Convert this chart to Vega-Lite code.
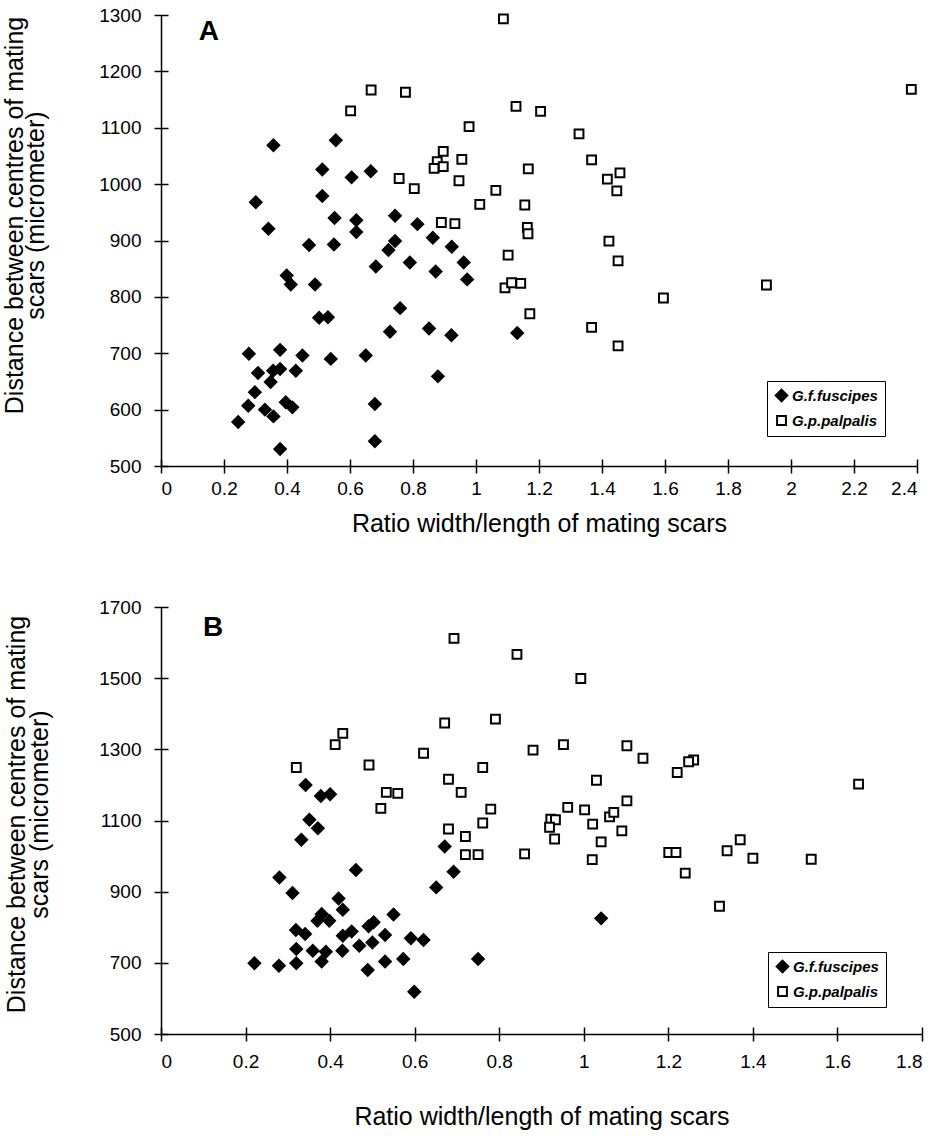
{
  "$schema": "https://vega.github.io/schema/vega-lite/v6.json",
  "background": "white",
  "padding": {"left": 2, "top": 6, "right": 12, "bottom": 2},
  "spacing": 62,
  "config": {
    "font": "Liberation Sans",
    "view": {"stroke": null},
    "axis": {
      "grid": false,
      "domainColor": "black",
      "domainWidth": 1.5,
      "tickColor": "black",
      "tickWidth": 1.5,
      "tickSize": 7,
      "labelColor": "black",
      "titleColor": "black",
      "labelFont": "Liberation Sans",
      "titleFont": "Liberation Sans",
      "labelFontSize": 19,
      "titleFontSize": 25,
      "titleFontWeight": "normal"
    },
    "legend": {
      "orient": "none",
      "strokeColor": "black",
      "strokeWidth": 1,
      "padding": 7,
      "fillColor": "white",
      "labelFont": "Liberation Sans",
      "labelFontSize": 15,
      "labelFontStyle": "italic",
      "labelFontWeight": "bold",
      "labelColor": "black",
      "labelOffset": 3,
      "symbolStrokeColor": "black",
      "symbolStrokeWidth": 2,
      "rowPadding": 6,
      "title": null
    }
  },
  "datasets": {
    "panelA": [
      {"species": "G.f.fuscipes", "ratio": 0.245, "distance": 578},
      {"species": "G.f.fuscipes", "ratio": 0.279, "distance": 699},
      {"species": "G.f.fuscipes", "ratio": 0.378, "distance": 706},
      {"species": "G.f.fuscipes", "ratio": 0.449, "distance": 696},
      {"species": "G.f.fuscipes", "ratio": 0.502, "distance": 763},
      {"species": "G.f.fuscipes", "ratio": 0.530, "distance": 764},
      {"species": "G.f.fuscipes", "ratio": 0.539, "distance": 690},
      {"species": "G.f.fuscipes", "ratio": 0.308, "distance": 665},
      {"species": "G.f.fuscipes", "ratio": 0.356, "distance": 669},
      {"species": "G.f.fuscipes", "ratio": 0.378, "distance": 672},
      {"species": "G.f.fuscipes", "ratio": 0.428, "distance": 669},
      {"species": "G.f.fuscipes", "ratio": 0.348, "distance": 649},
      {"species": "G.f.fuscipes", "ratio": 0.298, "distance": 631},
      {"species": "G.f.fuscipes", "ratio": 0.277, "distance": 607},
      {"species": "G.f.fuscipes", "ratio": 0.330, "distance": 600},
      {"species": "G.f.fuscipes", "ratio": 0.357, "distance": 588},
      {"species": "G.f.fuscipes", "ratio": 0.396, "distance": 613},
      {"species": "G.f.fuscipes", "ratio": 0.417, "distance": 604},
      {"species": "G.f.fuscipes", "ratio": 0.378, "distance": 530},
      {"species": "G.f.fuscipes", "ratio": 0.357, "distance": 1069},
      {"species": "G.f.fuscipes", "ratio": 0.555, "distance": 1078},
      {"species": "G.f.fuscipes", "ratio": 0.512, "distance": 1026},
      {"species": "G.f.fuscipes", "ratio": 0.605, "distance": 1012},
      {"species": "G.f.fuscipes", "ratio": 0.301, "distance": 968},
      {"species": "G.f.fuscipes", "ratio": 0.512, "distance": 979},
      {"species": "G.f.fuscipes", "ratio": 0.551, "distance": 940},
      {"species": "G.f.fuscipes", "ratio": 0.620, "distance": 936},
      {"species": "G.f.fuscipes", "ratio": 0.341, "distance": 921},
      {"species": "G.f.fuscipes", "ratio": 0.470, "distance": 892},
      {"species": "G.f.fuscipes", "ratio": 0.549, "distance": 893},
      {"species": "G.f.fuscipes", "ratio": 0.399, "distance": 838},
      {"species": "G.f.fuscipes", "ratio": 0.412, "distance": 822},
      {"species": "G.f.fuscipes", "ratio": 0.489, "distance": 822},
      {"species": "G.f.fuscipes", "ratio": 0.620, "distance": 915},
      {"species": "G.f.fuscipes", "ratio": 0.743, "distance": 899},
      {"species": "G.f.fuscipes", "ratio": 0.722, "distance": 883},
      {"species": "G.f.fuscipes", "ratio": 0.863, "distance": 905},
      {"species": "G.f.fuscipes", "ratio": 0.923, "distance": 889},
      {"species": "G.f.fuscipes", "ratio": 0.682, "distance": 854},
      {"species": "G.f.fuscipes", "ratio": 0.790, "distance": 861},
      {"species": "G.f.fuscipes", "ratio": 0.872, "distance": 845},
      {"species": "G.f.fuscipes", "ratio": 0.961, "distance": 861},
      {"species": "G.f.fuscipes", "ratio": 0.972, "distance": 831},
      {"species": "G.f.fuscipes", "ratio": 0.759, "distance": 780},
      {"species": "G.f.fuscipes", "ratio": 0.727, "distance": 738},
      {"species": "G.f.fuscipes", "ratio": 0.851, "distance": 744},
      {"species": "G.f.fuscipes", "ratio": 0.922, "distance": 732},
      {"species": "G.f.fuscipes", "ratio": 1.131, "distance": 736},
      {"species": "G.f.fuscipes", "ratio": 0.650, "distance": 696},
      {"species": "G.f.fuscipes", "ratio": 0.879, "distance": 659},
      {"species": "G.f.fuscipes", "ratio": 0.679, "distance": 610},
      {"species": "G.f.fuscipes", "ratio": 0.679, "distance": 544},
      {"species": "G.f.fuscipes", "ratio": 0.666, "distance": 1023},
      {"species": "G.f.fuscipes", "ratio": 0.743, "distance": 944},
      {"species": "G.f.fuscipes", "ratio": 0.814, "distance": 929},
      {"species": "G.p.palpalis", "ratio": 1.087, "distance": 1293},
      {"species": "G.p.palpalis", "ratio": 0.667, "distance": 1167},
      {"species": "G.p.palpalis", "ratio": 0.776, "distance": 1163},
      {"species": "G.p.palpalis", "ratio": 0.602, "distance": 1130},
      {"species": "G.p.palpalis", "ratio": 1.127, "distance": 1138},
      {"species": "G.p.palpalis", "ratio": 1.205, "distance": 1129},
      {"species": "G.p.palpalis", "ratio": 0.978, "distance": 1102},
      {"species": "G.p.palpalis", "ratio": 0.896, "distance": 1058},
      {"species": "G.p.palpalis", "ratio": 0.877, "distance": 1040},
      {"species": "G.p.palpalis", "ratio": 0.867, "distance": 1028},
      {"species": "G.p.palpalis", "ratio": 0.896, "distance": 1031},
      {"species": "G.p.palpalis", "ratio": 0.955, "distance": 1044},
      {"species": "G.p.palpalis", "ratio": 1.166, "distance": 1027},
      {"species": "G.p.palpalis", "ratio": 0.756, "distance": 1010},
      {"species": "G.p.palpalis", "ratio": 0.804, "distance": 992},
      {"species": "G.p.palpalis", "ratio": 0.946, "distance": 1006},
      {"species": "G.p.palpalis", "ratio": 1.063, "distance": 989},
      {"species": "G.p.palpalis", "ratio": 1.012, "distance": 964},
      {"species": "G.p.palpalis", "ratio": 1.155, "distance": 963},
      {"species": "G.p.palpalis", "ratio": 0.890, "distance": 932},
      {"species": "G.p.palpalis", "ratio": 0.933, "distance": 930},
      {"species": "G.p.palpalis", "ratio": 1.163, "distance": 923},
      {"species": "G.p.palpalis", "ratio": 1.165, "distance": 912},
      {"species": "G.p.palpalis", "ratio": 1.102, "distance": 874},
      {"species": "G.p.palpalis", "ratio": 1.092, "distance": 816},
      {"species": "G.p.palpalis", "ratio": 1.113, "distance": 825},
      {"species": "G.p.palpalis", "ratio": 1.142, "distance": 824},
      {"species": "G.p.palpalis", "ratio": 1.171, "distance": 770},
      {"species": "G.p.palpalis", "ratio": 2.382, "distance": 1168},
      {"species": "G.p.palpalis", "ratio": 1.327, "distance": 1089},
      {"species": "G.p.palpalis", "ratio": 1.367, "distance": 1043},
      {"species": "G.p.palpalis", "ratio": 1.417, "distance": 1009},
      {"species": "G.p.palpalis", "ratio": 1.457, "distance": 1020},
      {"species": "G.p.palpalis", "ratio": 1.447, "distance": 988},
      {"species": "G.p.palpalis", "ratio": 1.422, "distance": 899},
      {"species": "G.p.palpalis", "ratio": 1.451, "distance": 864},
      {"species": "G.p.palpalis", "ratio": 1.922, "distance": 821},
      {"species": "G.p.palpalis", "ratio": 1.595, "distance": 798},
      {"species": "G.p.palpalis", "ratio": 1.367, "distance": 746},
      {"species": "G.p.palpalis", "ratio": 1.451, "distance": 713}
    ],
    "panelB": [
      {"species": "G.f.fuscipes", "ratio": 0.378, "distance": 1169},
      {"species": "G.f.fuscipes", "ratio": 0.400, "distance": 1174},
      {"species": "G.f.fuscipes", "ratio": 0.342, "distance": 1200},
      {"species": "G.f.fuscipes", "ratio": 0.351, "distance": 1102},
      {"species": "G.f.fuscipes", "ratio": 0.371, "distance": 1078},
      {"species": "G.f.fuscipes", "ratio": 0.332, "distance": 1046},
      {"species": "G.f.fuscipes", "ratio": 0.461, "distance": 961},
      {"species": "G.f.fuscipes", "ratio": 0.280, "distance": 940},
      {"species": "G.f.fuscipes", "ratio": 0.311, "distance": 896},
      {"species": "G.f.fuscipes", "ratio": 0.420, "distance": 881},
      {"species": "G.f.fuscipes", "ratio": 0.430, "distance": 849},
      {"species": "G.f.fuscipes", "ratio": 0.550, "distance": 836},
      {"species": "G.f.fuscipes", "ratio": 0.380, "distance": 837},
      {"species": "G.f.fuscipes", "ratio": 0.370, "distance": 818},
      {"species": "G.f.fuscipes", "ratio": 0.398, "distance": 818},
      {"species": "G.f.fuscipes", "ratio": 0.319, "distance": 792},
      {"species": "G.f.fuscipes", "ratio": 0.341, "distance": 781},
      {"species": "G.f.fuscipes", "ratio": 0.430, "distance": 776},
      {"species": "G.f.fuscipes", "ratio": 0.451, "distance": 788},
      {"species": "G.f.fuscipes", "ratio": 0.491, "distance": 803},
      {"species": "G.f.fuscipes", "ratio": 0.503, "distance": 814},
      {"species": "G.f.fuscipes", "ratio": 0.530, "distance": 778},
      {"species": "G.f.fuscipes", "ratio": 0.500, "distance": 757},
      {"species": "G.f.fuscipes", "ratio": 0.469, "distance": 748},
      {"species": "G.f.fuscipes", "ratio": 0.320, "distance": 739},
      {"species": "G.f.fuscipes", "ratio": 0.359, "distance": 734},
      {"species": "G.f.fuscipes", "ratio": 0.390, "distance": 731},
      {"species": "G.f.fuscipes", "ratio": 0.429, "distance": 734},
      {"species": "G.f.fuscipes", "ratio": 0.380, "distance": 704},
      {"species": "G.f.fuscipes", "ratio": 0.221, "distance": 699},
      {"species": "G.f.fuscipes", "ratio": 0.279, "distance": 692},
      {"species": "G.f.fuscipes", "ratio": 0.320, "distance": 699},
      {"species": "G.f.fuscipes", "ratio": 0.530, "distance": 704},
      {"species": "G.f.fuscipes", "ratio": 0.489, "distance": 680},
      {"species": "G.f.fuscipes", "ratio": 0.573, "distance": 711},
      {"species": "G.f.fuscipes", "ratio": 0.671, "distance": 1027},
      {"species": "G.f.fuscipes", "ratio": 0.692, "distance": 956},
      {"species": "G.f.fuscipes", "ratio": 0.651, "distance": 912},
      {"species": "G.f.fuscipes", "ratio": 1.041, "distance": 825},
      {"species": "G.f.fuscipes", "ratio": 0.591, "distance": 769},
      {"species": "G.f.fuscipes", "ratio": 0.621, "distance": 764},
      {"species": "G.f.fuscipes", "ratio": 0.750, "distance": 711},
      {"species": "G.f.fuscipes", "ratio": 0.599, "distance": 619},
      {"species": "G.p.palpalis", "ratio": 0.430, "distance": 1345},
      {"species": "G.p.palpalis", "ratio": 0.412, "distance": 1313},
      {"species": "G.p.palpalis", "ratio": 0.320, "distance": 1249},
      {"species": "G.p.palpalis", "ratio": 0.492, "distance": 1256},
      {"species": "G.p.palpalis", "ratio": 0.533, "distance": 1179},
      {"species": "G.p.palpalis", "ratio": 0.560, "distance": 1176},
      {"species": "G.p.palpalis", "ratio": 0.520, "distance": 1134},
      {"species": "G.p.palpalis", "ratio": 0.780, "distance": 1132},
      {"species": "G.p.palpalis", "ratio": 0.761, "distance": 1093},
      {"species": "G.p.palpalis", "ratio": 0.680, "distance": 1076},
      {"species": "G.p.palpalis", "ratio": 0.720, "distance": 1055},
      {"species": "G.p.palpalis", "ratio": 0.720, "distance": 1004},
      {"species": "G.p.palpalis", "ratio": 0.750, "distance": 1004},
      {"species": "G.p.palpalis", "ratio": 0.860, "distance": 1006},
      {"species": "G.p.palpalis", "ratio": 0.922, "distance": 1104},
      {"species": "G.p.palpalis", "ratio": 0.933, "distance": 1102},
      {"species": "G.p.palpalis", "ratio": 0.919, "distance": 1081},
      {"species": "G.p.palpalis", "ratio": 0.931, "distance": 1048},
      {"species": "G.p.palpalis", "ratio": 0.962, "distance": 1137},
      {"species": "G.p.palpalis", "ratio": 1.002, "distance": 1130},
      {"species": "G.p.palpalis", "ratio": 1.021, "distance": 1090},
      {"species": "G.p.palpalis", "ratio": 1.041, "distance": 1040},
      {"species": "G.p.palpalis", "ratio": 1.020, "distance": 990},
      {"species": "G.p.palpalis", "ratio": 1.061, "distance": 1110},
      {"species": "G.p.palpalis", "ratio": 1.071, "distance": 1123},
      {"species": "G.p.palpalis", "ratio": 1.090, "distance": 1071},
      {"species": "G.p.palpalis", "ratio": 1.102, "distance": 1155},
      {"species": "G.p.palpalis", "ratio": 0.693, "distance": 1612},
      {"species": "G.p.palpalis", "ratio": 0.842, "distance": 1567},
      {"species": "G.p.palpalis", "ratio": 0.993, "distance": 1499},
      {"species": "G.p.palpalis", "ratio": 0.671, "distance": 1374},
      {"species": "G.p.palpalis", "ratio": 0.791, "distance": 1385},
      {"species": "G.p.palpalis", "ratio": 0.621, "distance": 1289},
      {"species": "G.p.palpalis", "ratio": 0.880, "distance": 1298},
      {"species": "G.p.palpalis", "ratio": 0.952, "distance": 1313},
      {"species": "G.p.palpalis", "ratio": 1.102, "distance": 1310},
      {"species": "G.p.palpalis", "ratio": 1.140, "distance": 1275},
      {"species": "G.p.palpalis", "ratio": 0.761, "distance": 1249},
      {"species": "G.p.palpalis", "ratio": 0.680, "distance": 1216},
      {"species": "G.p.palpalis", "ratio": 0.710, "distance": 1179},
      {"species": "G.p.palpalis", "ratio": 1.030, "distance": 1213},
      {"species": "G.p.palpalis", "ratio": 1.260, "distance": 1270},
      {"species": "G.p.palpalis", "ratio": 1.248, "distance": 1265},
      {"species": "G.p.palpalis", "ratio": 1.221, "distance": 1235},
      {"species": "G.p.palpalis", "ratio": 1.650, "distance": 1202},
      {"species": "G.p.palpalis", "ratio": 1.201, "distance": 1010},
      {"species": "G.p.palpalis", "ratio": 1.218, "distance": 1010},
      {"species": "G.p.palpalis", "ratio": 1.240, "distance": 952},
      {"species": "G.p.palpalis", "ratio": 1.370, "distance": 1046},
      {"species": "G.p.palpalis", "ratio": 1.339, "distance": 1015},
      {"species": "G.p.palpalis", "ratio": 1.400, "distance": 994},
      {"species": "G.p.palpalis", "ratio": 1.538, "distance": 991},
      {"species": "G.p.palpalis", "ratio": 1.321, "distance": 859}
    ]
  },
  "resolve": {
    "scale": {"shape": "independent", "fill": "independent", "size": "independent", "stroke": "independent"},
    "legend": {"shape": "independent", "fill": "independent", "size": "independent", "stroke": "independent"}
  },
  "vconcat": [
    {
      "width": 756,
      "height": 451,
      "resolve": {"axis": {"x": "independent", "y": "independent"}},
      "layer": [
        {
          "data": {"name": "panelA"},
          "mark": {"type": "point", "filled": true, "strokeWidth": 2, "opacity": 1, "strokeOpacity": 1},
          "encoding": {
            "x": {
              "field": "ratio", "type": "quantitative",
              "scale": {"domain": [0, 2.4], "nice": false, "zero": false},
              "axis": {"orient": "bottom", "values": [0, 0.2, 0.4, 0.6, 0.8, 1, 1.2, 1.4, 1.6, 1.8, 2, 2.2, 2.4], "format": "~g", "labelPadding": 6, "titlePadding": 13, "title": "Ratio width/length of mating scars"}
            },
            "y": {
              "field": "distance", "type": "quantitative",
              "scale": {"domain": [500, 1300], "nice": false, "zero": false},
              "axis": {"orient": "left", "values": [500, 600, 700, 800, 900, 1000, 1100, 1200, 1300], "format": "d", "labelPadding": 13, "titlePadding": 50, "titleY": 200, "titleLineHeight": 21, "title": ["Distance between centres of mating", "scars (micrometer)"]}
            },
            "shape": {"field": "species", "type": "nominal", "scale": {"domain": ["G.f.fuscipes", "G.p.palpalis"], "range": ["diamond", "square"]}, "legend": {"legendX": 606, "legendY": 366}},
            "fill": {"field": "species", "type": "nominal", "scale": {"domain": ["G.f.fuscipes", "G.p.palpalis"], "range": ["black", "white"]}, "legend": {"legendX": 606, "legendY": 366}},
            "stroke": {"field": "species", "type": "nominal", "scale": {"domain": ["G.f.fuscipes", "G.p.palpalis"], "range": ["black", "black"]}, "legend": {"legendX": 606, "legendY": 366}},
            "size": {"field": "species", "type": "nominal", "scale": {"domain": ["G.f.fuscipes", "G.p.palpalis"], "range": [135, 78]}, "legend": {"legendX": 606, "legendY": 366}}
          }
        },
        {
          "data": {"values": [{"label": "A"}]},
          "mark": {"type": "text", "font": "Liberation Sans", "fontSize": 28, "fontWeight": "bold", "color": "black"},
          "encoding": {
            "text": {"field": "label", "type": "nominal"},
            "x": {"datum": 0.152, "type": "quantitative", "axis": {"orient": "bottom", "values": [0, 0.2, 0.4, 0.6, 0.8, 1, 1.2, 1.4, 1.6, 1.8, 2, 2.2, 2.4], "tickSize": -7, "labels": false, "domain": false, "title": null}},
            "y": {"datum": 1269, "type": "quantitative", "axis": {"orient": "left", "values": [500, 600, 700, 800, 900, 1000, 1100, 1200, 1300], "tickSize": -7, "labels": false, "domain": false, "title": null}}
          }
        }
      ]
    },
    {
      "width": 761,
      "height": 427,
      "resolve": {"axis": {"x": "independent", "y": "independent"}},
      "layer": [
        {
          "data": {"name": "panelB"},
          "mark": {"type": "point", "filled": true, "strokeWidth": 2, "opacity": 1, "strokeOpacity": 1},
          "encoding": {
            "x": {
              "field": "ratio", "type": "quantitative",
              "scale": {"domain": [0, 1.8], "nice": false, "zero": false},
              "axis": {"orient": "bottom", "values": [0, 0.2, 0.4, 0.6, 0.8, 1, 1.2, 1.4, 1.6, 1.8], "format": "~g", "labelPadding": 11, "titlePadding": 33, "title": "Ratio width/length of mating scars"}
            },
            "y": {
              "field": "distance", "type": "quantitative",
              "scale": {"domain": [500, 1700], "nice": false, "zero": false},
              "axis": {"orient": "left", "values": [500, 700, 900, 1100, 1300, 1500, 1700], "format": "d", "labelPadding": 13, "titlePadding": 46, "titleY": 207, "titleLineHeight": 23, "title": ["Distance between centres of mating", "scars (micrometer)"]}
            },
            "shape": {"field": "species", "type": "nominal", "scale": {"domain": ["G.f.fuscipes", "G.p.palpalis"], "range": ["diamond", "square"]}, "legend": {"legendX": 607, "legendY": 345}},
            "fill": {"field": "species", "type": "nominal", "scale": {"domain": ["G.f.fuscipes", "G.p.palpalis"], "range": ["black", "white"]}, "legend": {"legendX": 607, "legendY": 345}},
            "stroke": {"field": "species", "type": "nominal", "scale": {"domain": ["G.f.fuscipes", "G.p.palpalis"], "range": ["black", "black"]}, "legend": {"legendX": 607, "legendY": 345}},
            "size": {"field": "species", "type": "nominal", "scale": {"domain": ["G.f.fuscipes", "G.p.palpalis"], "range": [135, 78]}, "legend": {"legendX": 607, "legendY": 345}}
          }
        },
        {
          "data": {"values": [{"label": "B"}]},
          "mark": {"type": "text", "font": "Liberation Sans", "fontSize": 28, "fontWeight": "bold", "color": "black"},
          "encoding": {
            "text": {"field": "label", "type": "nominal"},
            "x": {"datum": 0.123, "type": "quantitative", "axis": {"orient": "bottom", "values": [0, 0.2, 0.4, 0.6, 0.8, 1, 1.2, 1.4, 1.6, 1.8], "tickSize": -7, "labels": false, "domain": false, "title": null}},
            "y": {"datum": 1640, "type": "quantitative", "axis": {"orient": "left", "values": [500, 700, 900, 1100, 1300, 1500, 1700], "tickSize": -7, "labels": false, "domain": false, "title": null}}
          }
        }
      ]
    }
  ]
}
